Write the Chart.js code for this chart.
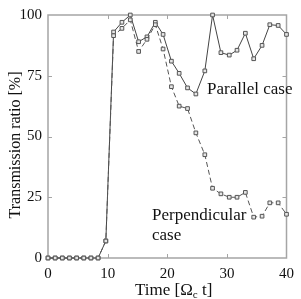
<!DOCTYPE html>
<html>
<head>
<meta charset="utf-8">
<script src="https://cdn.jsdelivr.net/npm/chart.js@4.4.1/dist/chart.umd.min.js"></script>
<style>
  html, body { margin: 0; background: #fff; }
  #wrap { width: 301px; height: 299px; }
</style>
</head>
<body>
<div id="wrap"><canvas id="chart"></canvas></div>
<script>
// time axis values (Omega_c t)
const timeSteps = [0, 1.2, 2.4, 3.6, 4.8, 6.0, 7.2, 8.4, 9.7, 11.0, 12.4, 13.8, 15.2, 16.6, 18.0, 19.3,
  20.7, 22.0, 23.4, 24.8, 26.3, 27.6, 29.0, 30.4, 31.7, 33.1, 34.5, 35.9, 37.2, 38.6, 40.0];
const parallelRatio = [0, 0, 0, 0, 0, 0, 0, 0, 7, 93, 97, 100, 89, 91, 97, 92,
  81, 76, 70, 67.5, 77, 100, 84.5, 83.5, 85.5, 92.5, 82, 87.5, 96, 95.7, 92];
const perpendicularRatio = [0, 0, 0, 0, 0, 0, 0, 0, 7, 91.5, 94.5, 98, 85, 90, 96, 86,
  70.5, 62.5, 61.5, 51.5, 42.5, 28.7, 26.4, 25, 25, 27, 16.8, 17.2, 22.7, 22.7, 18];
const xTicks = [10, 20, 30];
const yTicks = [25, 50, 75];

const SERIF = '"Liberation Serif", "DejaVu Serif", serif';
const toPoints = (ys) => timeSteps.map((t, i) => ({ x: t, y: ys[i] }));

// frame with inward ticks, axis titles, case labels
const decor = {
  id: 'decor',
  beforeDatasetsDraw(chart) {
    const { ctx, chartArea: a, scales: { x, y } } = chart;
    ctx.save();
    ctx.strokeStyle = '#a5a5a5';
    ctx.lineWidth = 1.5;
    ctx.strokeRect(a.left, a.top, a.right - a.left, a.bottom - a.top);
    ctx.lineWidth = 1;
    ctx.beginPath();
    xTicks.forEach(v => {
      const px = Math.round(x.getPixelForValue(v)) + 0.5;
      ctx.moveTo(px, a.bottom); ctx.lineTo(px, a.bottom - 4);
      ctx.moveTo(px, a.top); ctx.lineTo(px, a.top + 4);
    });
    yTicks.forEach(v => {
      const py = Math.round(y.getPixelForValue(v)) + 0.5;
      ctx.moveTo(a.left, py); ctx.lineTo(a.left + 4, py);
      ctx.moveTo(a.right, py); ctx.lineTo(a.right - 4, py);
    });
    ctx.stroke();

    ctx.fillStyle = '#111';
    ctx.textBaseline = 'alphabetic';
    ctx.textAlign = 'left';
    ctx.font = '17px ' + SERIF;
    ctx.fillText('Parallel case', 207, 94);
    ctx.fillText('Perpendicular', 152, 220);
    ctx.fillText('case', 152, 240);

    // y title
    ctx.save();
    ctx.translate(20, 145);
    ctx.rotate(-Math.PI / 2);
    ctx.textAlign = 'center';
    ctx.font = '16px ' + SERIF;
    ctx.fillText('Transmission ratio [%]', 0, 0);
    ctx.restore();

    // x title: Time [Ω_c t]
    const big = '17px ' + SERIF, small = '11px ' + SERIF;
    ctx.font = big;
    const w1 = ctx.measureText('Time [Ω').width;
    const w3 = ctx.measureText(' t]').width;
    ctx.font = small;
    const w2 = ctx.measureText('c').width;
    let sx = 135;
    const base = 295;
    ctx.font = big; ctx.fillText('Time [Ω', sx, base); sx += w1;
    ctx.font = small; ctx.fillText('c', sx, base + 3); sx += w2;
    ctx.font = big; ctx.fillText(' t]', sx, base);
    ctx.restore();
  }
};

new Chart(document.getElementById('chart'), {
  type: 'line',
  data: {
    datasets: [
      { label: 'Perpendicular case', data: toPoints(perpendicularRatio), borderColor: '#555', borderWidth: 1, borderDash: [5, 3],
        pointStyle: 'rect', pointRadius: 2.6, pointBorderColor: '#555', pointBackgroundColor: '#e6e6e6', pointBorderWidth: 1, clip: 6 },
      { label: 'Parallel case', data: toPoints(parallelRatio), borderColor: '#444', borderWidth: 1,
        pointStyle: 'rect', pointRadius: 2.6, pointBorderColor: '#555', pointBackgroundColor: '#e6e6e6', pointBorderWidth: 1, clip: 6 }
    ]
  },
  options: {
    responsive: true,
    maintainAspectRatio: false,
    animation: false,
    layout: { padding: { top: 13, right: 9, left: 0, bottom: 0 } },
    plugins: { legend: { display: false }, tooltip: { enabled: false } },
    scales: {
      x: {
        type: 'linear', min: 0, max: 40,
        ticks: { stepSize: 10, color: '#111', font: { family: SERIF, size: 15 }, padding: 7 },
        grid: { display: false, drawTicks: false },
        border: { display: false },
        afterFit: s => { s.height = 41; }
      },
      y: {
        min: 0, max: 100,
        ticks: { stepSize: 25, color: '#111', font: { family: SERIF, size: 15 }, padding: 6 },
        grid: { display: false, drawTicks: false },
        border: { display: false },
        afterFit: s => { s.width = 48; }
      }
    }
  },
  plugins: [decor]
});
</script>
</body>
</html>
